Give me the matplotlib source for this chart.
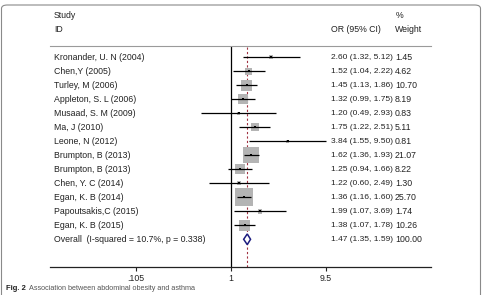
import numpy as np
import matplotlib
matplotlib.use('Agg')
import matplotlib.pyplot as plt
import matplotlib.transforms as mtransforms
from matplotlib.patches import FancyBboxPatch, Polygon

plt.rcParams['font.family'] = ['Liberation Sans', 'DejaVu Sans']

# Study data
studies = ["Kronander, U. N (2004)", "Chen,Y (2005)", "Turley, M (2006)",
           "Appleton, S. L (2006)", "Musaad, S. M (2009)", "Ma, J (2010)",
           "Leone, N (2012)", "Brumpton, B (2013)", "Brumpton, B (2013)",
           "Chen, Y. C (2014)", "Egan, K. B (2014)", "Papoutsakis,C (2015)",
           "Egan, K. B (2015)"]
odds = [2.60, 1.52, 1.45, 1.32, 1.20, 1.75, 3.84, 1.62, 1.25, 1.22, 1.36, 1.99, 1.38]
lower = [1.32, 1.04, 1.13, 0.99, 0.49, 1.22, 1.55, 1.36, 0.94, 0.60, 1.16, 1.07, 1.07]
upper = [5.12, 2.22, 1.86, 1.75, 2.93, 2.51, 9.50, 1.93, 1.66, 2.49, 1.60, 3.69, 1.78]
weights = [1.45, 4.62, 10.70, 8.19, 0.83, 5.11, 0.81, 21.07, 8.22, 1.30, 25.70, 1.74, 10.26]

overall_label = "Overall  (I-squared = 10.7%, p = 0.338)"
overall = [1.47, 1.35, 1.59]
overall_weight = "100.00"

tick_vals = [0.105, 1, 9.5]
tick_labels = [".105", "1", "9.5"]

W, H = 484, 295
fig = plt.figure(figsize=(W / 100, H / 100), dpi=100)

# frame around the figure
frame = FancyBboxPatch((1.5 / W, -0.05), 479 / W, (H - 5) / H + 0.05,
                       boxstyle="round,pad=0,rounding_size=0.012",
                       transform=fig.transFigure, fill=False,
                       edgecolor='#8a8a8a', linewidth=0.8)
fig.patches.append(frame)

ax = fig.add_axes([50 / W, (H - 267) / H, 381 / W, 221 / H])
ax.set_xscale('log')
ax.set_xlim(10 ** ((50 - 231) / 97.1), 10 ** ((431 - 231) / 97.1))
ax.set_ylim(14.98, -0.81)

for s in ['left', 'right']:
    ax.spines[s].set_visible(False)
ax.spines['top'].set_color('#9a9a9a')
ax.spines['top'].set_linewidth(0.8)
ax.spines['bottom'].set_color('#222222')
ax.spines['bottom'].set_linewidth(0.9)
ax.set_yticks([])
ax.set_xticks(tick_vals)
ax.set_xticklabels(tick_labels)
ax.xaxis.set_minor_locator(matplotlib.ticker.NullLocator())
ax.tick_params(axis='x', length=3, width=0.8, pad=2, labelsize=6.3, colors='#222222')

rows = np.arange(len(studies))

ax.axvline(1, color='black', lw=0.9)
ax.axvline(overall[0], color='#a03040', lw=0.8, ls=(0, (2, 2)))

# weight boxes
ax.scatter(odds, rows, marker='s', s=np.array(weights) * 6.5, color='#b4b4b4', zorder=2, linewidths=0)
ax.hlines(rows, lower, upper, color='black', lw=0.9, zorder=3)
ax.scatter(odds, rows, marker='s', s=3, color='black', zorder=4, linewidths=0)

# overall diamond
yo = len(studies)
diamond = Polygon([(overall[1], yo), (overall[0], yo - 0.38), (overall[2], yo), (overall[0], yo + 0.38)],
                  closed=True, facecolor='white', edgecolor='#1c1c80', lw=1.1, zorder=5)
ax.add_patch(diamond)

# text columns
tr = mtransforms.blended_transform_factory(fig.transFigure, ax.transData)
fs = 6.3
fs_ci = 6.0
tc = '#222222'
for i, name in enumerate(studies):
    ax.text(54 / W, i, name, transform=tr, fontsize=fs, va='center', color=tc)
    ax.text(331 / W, i, "%.2f (%.2f, %.2f)" % (odds[i], lower[i], upper[i]),
            transform=tr, fontsize=fs_ci, va='center', color=tc)
    ax.text(395 / W, i, "%.2f" % weights[i], transform=tr, fontsize=fs, va='center', color=tc)
ax.text(54 / W, yo, overall_label, transform=tr, fontsize=fs, va='center', color=tc)
ax.text(331 / W, yo, "%.2f (%.2f, %.2f)" % tuple(overall), transform=tr, fontsize=fs_ci, va='center', color=tc)
ax.text(395 / W, yo, overall_weight, transform=tr, fontsize=fs, va='center', color=tc)

# headers
fig.text(54 / W, 1 - 15 / H, "Study", fontsize=fs, va='center', color=tc)
fig.text(54 / W, 1 - 29 / H, "ID", fontsize=fs, va='center', color=tc)
fig.text(396 / W, 1 - 15 / H, "%", fontsize=fs, va='center', color=tc)
fig.text(331 / W, 1 - 29 / H, "OR (95% CI)", fontsize=fs, va='center', color=tc)
fig.text(395 / W, 1 - 29 / H, "Weight", fontsize=fs, va='center', color=tc)

# caption
fig.text(6 / W, 1 - 289 / H, "Fig. 2", fontsize=5.5, fontweight='bold', va='center', color='#222222')
fig.text(29 / W, 1 - 289 / H, "Association between abdominal obesity and asthma",
         fontsize=5.2, va='center', color='#555555')

fig.savefig('out.png', dpi=100)
